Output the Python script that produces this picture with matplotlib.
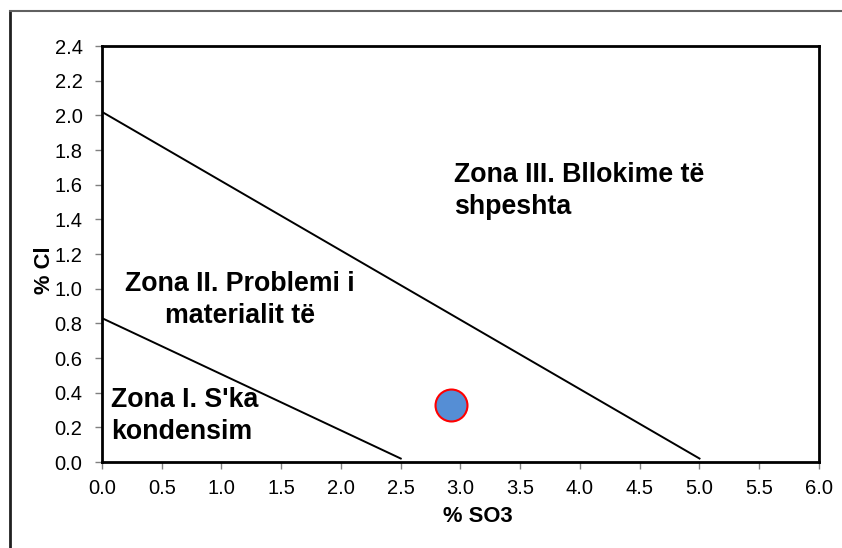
import matplotlib
matplotlib.use("Agg")
import matplotlib.pyplot as plt
from matplotlib.lines import Line2D

plt.rcParams['font.family'] = ['Liberation Sans', 'DejaVu Sans']

# Data
line_high_x = [0.0, 5.0]
line_high_y = [2.02, 0.02]
line_low_x = [0.0, 2.5]
line_low_y = [0.83, 0.02]
point_x = [2.92]
point_y = [0.33]
x_ticks = [0.0, 0.5, 1.0, 1.5, 2.0, 2.5, 3.0, 3.5, 4.0, 4.5, 5.0, 5.5, 6.0]
y_ticks = [0.0, 0.2, 0.4, 0.6, 0.8, 1.0, 1.2, 1.4, 1.6, 1.8, 2.0, 2.2, 2.4]
zone_labels = ["Zona III. Bllokime të\nshpeshta",
               "Zona II. Problemi i\nmaterialit të",
               "Zona I. S'ka\nkondensim"]

W, H = 842, 548
fig = plt.figure(figsize=(W / 100, H / 100), dpi=100)
ax = fig.add_axes([102 / W, 1 - 462 / H, (819 - 102) / W, (462 - 46) / H])

ax.plot(line_high_x, line_high_y, color='black', lw=1.4)
ax.plot(line_low_x, line_low_y, color='black', lw=1.4)
ax.plot(point_x, point_y, 'o', ms=23, markerfacecolor='#558ED5',
        markeredgecolor='#FF0000', markeredgewidth=1.5)

ax.set_xlim(0, 6)
ax.set_ylim(0, 2.4)
ax.set_xticks(x_ticks)
ax.set_yticks(y_ticks)
ax.set_xticklabels([f"{v:.1f}" for v in x_ticks])
ax.set_yticklabels([f"{v:.1f}" for v in y_ticks])
ax.tick_params(axis='both', labelsize=14.5, length=5, width=1, color='#808080',
               direction='out')
ax.tick_params(axis='x', pad=7.5)
ax.tick_params(axis='y', pad=9)
for s in ax.spines.values():
    s.set_linewidth(2)
    s.set_color('black')

ax.set_xlabel("% SO3", fontsize=15.8, fontweight='bold')
ax.xaxis.set_label_coords(0.524, -0.106)
ax.set_ylabel("% Cl", fontsize=15.8, fontweight='bold')
ax.yaxis.set_label_coords(-0.065, 0.46)

zfs = 19.3
ax.text(2.946, 1.564, zone_labels[0], fontsize=zfs, fontweight='bold',
        ha='left', va='center', linespacing=1.3)
ax.text(1.155, 0.933, zone_labels[1], fontsize=zfs, fontweight='bold',
        ha='center', va='center', linespacing=1.3, multialignment='center')
ax.text(0.073, 0.266, zone_labels[2], fontsize=zfs, fontweight='bold',
        ha='left', va='center', linespacing=1.3)

# outer figure border (left and top edges visible)
fig.add_artist(Line2D([10 / W, 10 / W], [0, 1 - 11 / H], transform=fig.transFigure,
                      color='#202020', lw=2))
fig.add_artist(Line2D([10 / W, 1], [1 - 11 / H, 1 - 11 / H], transform=fig.transFigure,
                      color='#606060', lw=1.5))

fig.savefig("out.png", dpi=100)
